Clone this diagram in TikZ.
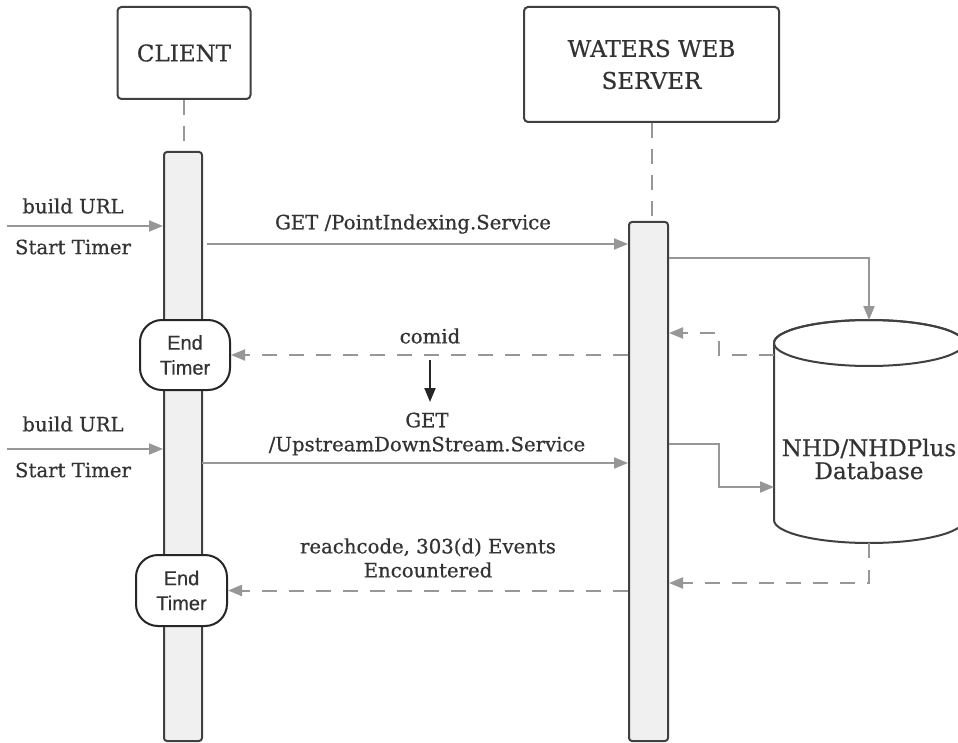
\documentclass[tikz,border=0pt]{standalone}
\usepackage{fontspec}
\setmainfont{DejaVu Serif}[FakeBold=0.6]
\newfontfamily\sansf{Liberation Sans}[FakeBold=0.5]
\usetikzlibrary{arrows.meta,calc}
\definecolor{lg}{HTML}{979797}
\definecolor{dk}{HTML}{404040}
\definecolor{tx}{HTML}{333333}
\definecolor{barfill}{HTML}{F0F0F0}
\begin{document}
\begin{tikzpicture}[x=1pt,y=1pt,
  actor/.style={draw=dk, line width=2pt, rounded corners=4pt, fill=white, text=tx, align=center, font=\fontsize{23}{32}\selectfont, inner sep=0pt},
  bar/.style={draw=dk, line width=2pt, rounded corners=3pt, fill=barfill, inner sep=0pt},
  timer/.style={draw=black!85, line width=2pt, rounded corners=22pt, fill=white, text=tx, align=center, font=\sansf\fontsize{20}{25}\selectfont, inner sep=0pt},
  lbl/.style={text=tx, align=center, font=\fontsize{19.7}{24}\selectfont, inner sep=0pt},
  msg/.style={draw=lg, line width=2pt, -{Triangle[length=14pt,width=11pt]}},
  ret/.style={msg, dash pattern=on 15pt off 12pt},
  life/.style={draw=lg, line width=2pt, dash pattern=on 15pt off 11pt},
]
\useasboundingbox (0,0) rectangle (958,-743);
\clip (0,0) rectangle (958,-743);
\fill[white] (0,0) rectangle (958,-743);

% actors
\node[actor, minimum width=133pt, minimum height=92pt] (client) at (184,-53) {CLIENT};
\node[actor, minimum width=255pt, minimum height=115pt] (server) at (651.5,-64.5) {WATERS WEB\\SERVER};

% activation bars
\node[bar, minimum width=38pt, minimum height=589pt] (cbar) at (183,-446.5) {};
\node[bar, minimum width=39pt, minimum height=519pt] (sbar) at (648.5,-481.5) {};

% lifelines
\draw[life] (client.south) -- (client.south |- cbar.north);
\draw[life] (server.south) -- (server.south |- sbar.north);

% database
\draw[draw=dk, line width=2pt, fill=white] (774,-343) -- (774,-520) arc[start angle=180, end angle=360, x radius=95, y radius=23] -- (964,-343) arc[start angle=0, end angle=180, x radius=95, y radius=23] -- cycle;
\draw[dk, line width=2pt] (869,-343) ellipse [x radius=95, y radius=23];
\node[lbl, font=\fontsize{23}{23}\selectfont] (db) at (869,-459) {NHD/NHDPlus\\Database};
\coordinate (dbtop) at (869,-320);
\coordinate (dbl1) at (774,-355);
\coordinate (dbl2) at (774,-487);
\coordinate (dbbot) at (869,-543);

% timers
\node[timer, minimum width=90pt, minimum height=70pt] (et1) at (185,-355) {End\\Timer};
\node[timer, minimum width=91pt, minimum height=71pt] (et2) at (181.5,-590.5) {End\\Timer};

% first request
\coordinate (in1) at (7,-226);
\draw[msg] (in1) -- (in1 -| cbar.west);
\node[lbl] (bu1) at (73,-206) {build URL};
\node[lbl] (st1) at (73,-247) {Start Timer};
\coordinate (g1) at (207,-244);
\draw[msg] (g1) -- (g1 -| sbar.west);
\node[lbl] (lg1) at (413,-224) {GET /PointIndexing.Service};
\coordinate (s1) at (700,-258);
\draw[msg] (s1 -| sbar.east) -| (dbtop);
\coordinate (r1) at (719,-333);
\draw[ret] (dbl1) -| (r1) -- (r1 -| sbar.east);
\draw[ret] (et1.east -| sbar.west) -- (et1.east);
\node[lbl] (lc) at (430,-336) {comid};

% black arrow
\coordinate (k1) at (430,-360);
\coordinate (k2) at (430,-402);
\draw[black!85, line width=2pt, -{Triangle[length=14pt,width=11pt]}] (k1) -- (k2);

% second request
\coordinate (in2) at (7,-449);
\draw[msg] (in2) -- (in2 -| cbar.west);
\node[lbl] (bu2) at (73,-424) {build URL};
\node[lbl] (st2) at (73,-470) {Start Timer};
\coordinate (g2) at (202,-463);
\draw[msg] (g2) -- (g2 -| sbar.west);
\node[lbl] (lg2) at (427,-434) {GET\\/UpstreamDownStream.Service};
\coordinate (s2) at (719,-444);
\draw[msg] (s2 -| sbar.east) -- (s2) |- (dbl2);
\coordinate (r2) at (869,-583);
\draw[ret] (dbbot) -- (r2) -- (r2 -| sbar.east);
\draw[ret] (et2.east -| sbar.west) -- (et2.east);
\node[lbl] (lr) at (428,-558) {reachcode, 303(d) Events\\Encountered};
\end{tikzpicture}
\end{document}
